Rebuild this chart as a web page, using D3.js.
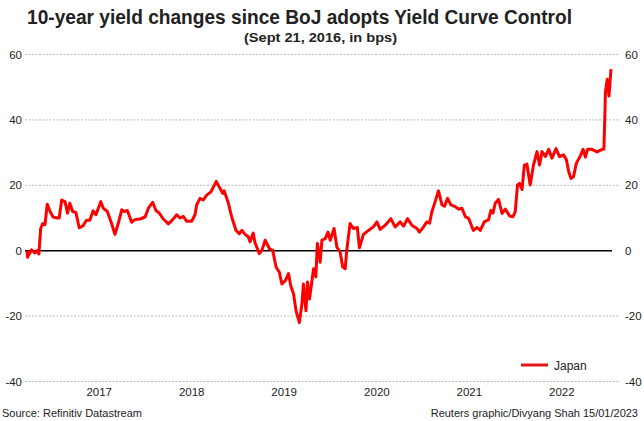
<!DOCTYPE html>
<html>
<head>
<meta charset="utf-8">
<script src="https://cdn.jsdelivr.net/npm/d3@7"></script>
<style>
  body { margin: 0; background: #fff; }
  svg { display: block; font-family: "Liberation Sans", Arial, sans-serif; }
</style>
</head>
<body>
<script>
// 10-year JGB yield change since Sept 21 2016 (bps)
const dates = [
  "2016-09-21","2016-09-23","2016-10-09","2016-10-22","2016-10-31","2016-11-07","2016-11-14","2016-11-22",
  "2016-12-01","2016-12-10","2016-12-21","2017-01-02","2017-01-18","2017-01-26","2017-02-05","2017-02-18",
  "2017-02-28","2017-03-09","2017-03-20","2017-04-02","2017-04-15","2017-04-29","2017-05-14","2017-05-27",
  "2017-06-09","2017-06-20","2017-07-09","2017-07-19","2017-08-04","2017-08-21","2017-09-03","2017-09-16",
  "2017-09-30","2017-10-09","2017-10-22","2017-11-08","2017-11-21","2017-12-11","2017-12-31","2018-01-13",
  "2018-01-30","2018-02-12","2018-02-25","2018-03-13","2018-04-02","2018-04-19","2018-05-05","2018-05-18",
  "2018-05-31","2018-06-13","2018-07-03","2018-07-16","2018-07-23","2018-08-05","2018-08-18","2018-08-31",
  "2018-09-17","2018-10-08","2018-10-21","2018-11-03","2018-11-08","2018-11-25","2018-12-08","2018-12-25",
  "2019-01-07","2019-01-17","2019-01-30","2019-02-12","2019-02-18","2019-03-03","2019-03-10","2019-03-27",
  "2019-04-06","2019-04-19","2019-05-06","2019-05-19","2019-06-01","2019-06-14","2019-06-24","2019-07-07",
  "2019-07-20","2019-07-29","2019-08-09","2019-08-19","2019-09-01","2019-09-11","2019-09-17","2019-09-27",
  "2019-10-03","2019-10-11","2019-10-27","2019-11-05","2019-11-11","2019-11-22","2019-11-29","2019-12-12",
  "2019-12-23","2020-01-01","2020-01-16","2020-01-27","2020-02-09","2020-02-19","2020-02-29","2020-03-06",
  "2020-03-19","2020-04-01","2020-04-17","2020-04-25","2020-05-11","2020-05-31","2020-06-19","2020-07-03",
  "2020-07-16","2020-08-05","2020-08-27","2020-09-13","2020-10-03","2020-10-16","2020-11-01","2020-11-18",
  "2020-12-08","2020-12-18","2021-01-03","2021-01-16","2021-01-27","2021-02-05","2021-02-18","2021-03-03",
  "2021-03-17","2021-03-27","2021-04-08","2021-04-21","2021-05-08","2021-05-21","2021-06-04","2021-06-17",
  "2021-06-30","2021-07-13","2021-07-19","2021-08-02","2021-08-15","2021-08-31","2021-09-17","2021-09-26",
  "2021-10-04","2021-10-13","2021-10-26","2021-11-09","2021-11-22","2021-12-09","2021-12-22","2021-12-31",
  "2022-01-09","2022-01-17","2022-01-27","2022-02-05","2022-02-15","2022-02-28","2022-03-13","2022-03-27",
  "2022-04-06","2022-04-16","2022-04-29","2022-05-12","2022-05-25","2022-06-10","2022-06-24","2022-07-10",
  "2022-07-21","2022-07-30","2022-08-08","2022-08-18","2022-08-29","2022-09-14","2022-09-25","2022-10-04",
  "2022-10-13","2022-10-30","2022-11-19","2022-12-09","2022-12-16","2022-12-20","2022-12-22","2022-12-29",
  "2023-01-05","2023-01-13"
];
const japan = [
  0, -2, 0.3, -0.7, 0, -1, 6.8, 8.3,
  8, 14.2, 12, 10.3, 10, 10, 15.5, 15,
  11.5, 14.5, 12, 11.7, 7, 7.5, 9.3, 9.3,
  12.2, 11, 15, 13, 12, 8.3, 5, 8.3,
  12.5, 12, 12.3, 8.7, 9.5, 9.7, 10.3, 13,
  14.8, 12.3, 11.5, 9.7, 8.2, 9.5, 11, 10,
  10.5, 9, 9, 11, 14.1, 16, 15.5, 17,
  18, 21.2, 19.3, 17.5, 18.3, 14.5, 10.3, 6.2,
  5.2, 6.2, 5, 4.2, 2.7, 5.4, 2.4, -0.9,
  0.1, 3.2, 0.6, 0.1, -5, -6.6, -10.2, -9.2,
  -7, -10.7, -13.2, -18.4, -22, -16.3, -10.2, -18.4,
  -9.6, -14.8, -5.5, -8, 2.2, -3.5, 3.2, 3.7,
  5.7, 3.2, 6.8, 1.1, -0.4, -5, -5.5, 0.1,
  8.3, 6.8, 7.1, 0.9, 5, 6.2, 7.3, 8.8,
  6.5, 7.8, 9.8, 7.3, 8.8, 7.5, 9.8, 7.8,
  6.8, 5.7, 7.3, 8.8, 8.4, 11.9, 15, 18.3,
  14, 13.6, 16, 14, 13.5, 12.7, 13, 10.4,
  9.9, 7.3, 6.2, 7.1, 6.2, 8.8, 9.5, 12.3,
  11.5, 14.5, 15.7, 11.4, 12.7, 10.6, 10.4, 11.9,
  20.1, 20.6, 18.7, 26.2, 26.5, 20.1, 26.2, 30.3,
  26.2, 30.3, 28.8, 31, 28.3, 31.2, 28.8, 29.3,
  27.8, 24.2, 22.1, 22.6, 26.7, 29, 31, 28.6,
  31, 31, 30.2, 31, 31, 42, 48.5, 52.4,
  47.3, 55.5
];
const yTicks = [-40, -20, 0, 20, 40, 60];
const yearLabels = ["2017-07-01","2018-07-01","2019-07-01","2020-07-01","2021-07-01","2022-07-01"];

const width = 644, height = 421;
const parse = d3.timeParse("%Y-%m-%d");
const data = dates.map((d, i) => ({ date: parse(d), value: japan[i] }));

const svg = d3.select("body").append("svg")
  .attr("width", width)
  .attr("height", height);

const x = d3.scaleTime()
  .domain([parse("2016-09-21"), parse("2023-01-13")])
  .range([27, 611]);
const y = d3.scaleLinear()
  .domain([-40, 60])
  .range([381.5, 54.5]);

// title
svg.append("text")
  .attr("x", 27).attr("y", 24)
  .attr("font-size", 20).attr("font-weight", "bold").attr("fill", "#222")
  .attr("textLength", 545).attr("lengthAdjust", "spacingAndGlyphs")
  .text("10-year yield changes since BoJ adopts Yield Curve Control");
svg.append("text")
  .attr("x", 244).attr("y", 42)
  .attr("font-size", 13.5).attr("font-weight", "bold").attr("fill", "#222")
  .attr("textLength", 153).attr("lengthAdjust", "spacingAndGlyphs")
  .text("(Sept 21, 2016, in bps)");

// grid
svg.append("g").selectAll("line")
  .data(yTicks.filter(d => d !== 0))
  .join("line")
  .attr("x1", 25).attr("x2", 619)
  .attr("y1", d => y(d)).attr("y2", d => y(d))
  .attr("stroke", "#b8b8b8").attr("stroke-width", 1)
  .attr("stroke-dasharray", "2,1.5");

svg.append("line")
  .attr("x1", 25).attr("x2", 612)
  .attr("y1", y(0)).attr("y2", y(0))
  .attr("stroke", "#000").attr("stroke-width", 1.5);

// axes (plain hyphen for negatives, as in the original)
const fmt = d => String(d);
const yLeft = svg.append("g")
  .attr("transform", "translate(25,0)")
  .call(d3.axisLeft(y).tickValues(yTicks).tickFormat(fmt).tickSize(0).tickPadding(3));
const yRight = svg.append("g")
  .attr("transform", "translate(622,0)")
  .call(d3.axisRight(y).tickValues(yTicks).tickFormat(fmt).tickSize(0).tickPadding(3));
const xAxis = svg.append("g")
  .attr("transform", "translate(0,384)")
  .call(d3.axisBottom(x).tickValues(yearLabels.map(parse))
    .tickFormat(d3.timeFormat("%Y")).tickSize(0).tickPadding(4));

[yLeft, yRight, xAxis].forEach(g => {
  g.select(".domain").remove();
  g.selectAll("text")
    .attr("font-family", "'Liberation Sans', Arial, sans-serif")
    .attr("font-size", 11.5).attr("fill", "#222");
});

// line
const line = d3.line()
  .x(d => x(d.date))
  .y(d => y(d.value));

svg.append("path")
  .datum(data)
  .attr("fill", "none")
  .attr("stroke", "#ff0000")
  .attr("stroke-width", 3)
  .attr("stroke-linejoin", "round")
  .attr("d", line);

// legend
svg.append("line")
  .attr("x1", 521).attr("x2", 548).attr("y1", 365).attr("y2", 365)
  .attr("stroke", "#e3131b").attr("stroke-width", 3);
svg.append("text")
  .attr("x", 554).attr("y", 369.5)
  .attr("font-size", 12).attr("fill", "#222")
  .text("Japan");

// footer
svg.append("text")
  .attr("x", 2).attr("y", 417)
  .attr("font-size", 11).attr("fill", "#222")
  .text("Source: Refinitiv Datastream");
svg.append("text")
  .attr("x", 638).attr("y", 417)
  .attr("text-anchor", "end")
  .attr("font-size", 11).attr("fill", "#222")
  .text("Reuters graphic/Divyang Shah 15/01/2023");
</script>
</body>
</html>
